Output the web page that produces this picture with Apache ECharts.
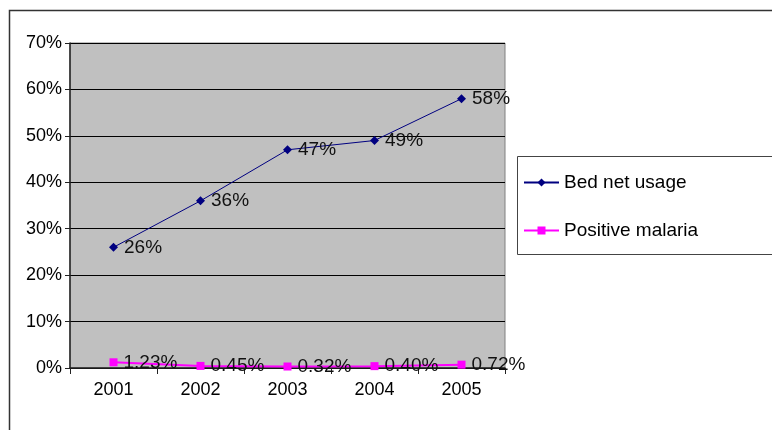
<!DOCTYPE html>
<html><head><meta charset="utf-8">
<script src="https://cdn.jsdelivr.net/npm/echarts@6/dist/echarts.min.js"></script>
<style>html,body{margin:0;padding:0;background:#fff}#c{width:772px;height:430px}</style>
</head><body><div id="c"></div>
<script>
const years = ['2001','2002','2003','2004','2005'];
const bedNetUsage = [26, 36, 47, 49, 58];
const positiveMalaria = [1.23, 0.45, 0.32, 0.40, 0.72];
const yTicks = [0, 10, 20, 30, 40, 50, 60, 70];

const font = 'Liberation Sans, Arial, sans-serif';
const chart = echarts.init(document.getElementById('c'));
chart.setOption({
  animation: false,
  textStyle: {fontFamily: font},
  graphic: [
    {type: 'rect', left: 7, top: 8, shape: {width: 820, height: 480}, style: {fill: 'none', stroke: '#333', lineWidth: 1.5}, z: -1},
    {type: 'rect', left: 517, top: 156, shape: {width: 300, height: 98}, style: {fill: '#fff', stroke: '#444', lineWidth: 1}, z: 0}
  ],
  grid: {left: 70, right: 267, top: 43, bottom: 62, show: true, backgroundColor: '#c0c0c0', borderColor: '#808080', borderWidth: 1},
  legend: {
    orient: 'vertical', left: 518, top: 168, itemWidth: 35, itemHeight: 10, itemGap: 29, z: 5,
    textStyle: {fontSize: 19, color: '#000', fontFamily: font},
    data: ['Bed net usage', 'Positive malaria']
  },
  xAxis: {
    type: 'category', data: years, boundaryGap: true,
    axisLine: {lineStyle: {color: '#222', width: 1.5}},
    axisTick: {show: true, length: 6, lineStyle: {color: '#222'}},
    axisLabel: {fontSize: 18, color: '#000', margin: 13}
  },
  yAxis: {
    type: 'value', min: 0, max: 70, interval: 10,
    axisLine: {show: true, lineStyle: {color: '#222', width: 1.5}},
    axisTick: {show: true, length: 5, lineStyle: {color: '#222'}},
    axisLabel: {fontSize: 18, color: '#000', margin: 8, formatter: v => yTicks.includes(v) ? v + '%' : ''},
    splitLine: {lineStyle: {color: '#000', width: 1}}
  },
  series: [
    {
      name: 'Bed net usage', type: 'line', data: bedNetUsage,
      symbol: 'diamond', symbolSize: 9,
      lineStyle: {color: '#000080', width: 1},
      itemStyle: {color: '#000080'},
      label: {show: true, position: 'right', distance: 6, fontSize: 19, color: '#111', formatter: p => p.value + '%'}
    },
    {
      name: 'Positive malaria', type: 'line', data: positiveMalaria,
      symbol: 'rect', symbolSize: 8,
      lineStyle: {color: '#ff00ff', width: 2},
      itemStyle: {color: '#ff00ff'},
      label: {show: true, position: 'right', distance: 6, fontSize: 19, color: '#111', formatter: p => p.value.toFixed(2) + '%'}
    }
  ]
});
</script></body></html>
